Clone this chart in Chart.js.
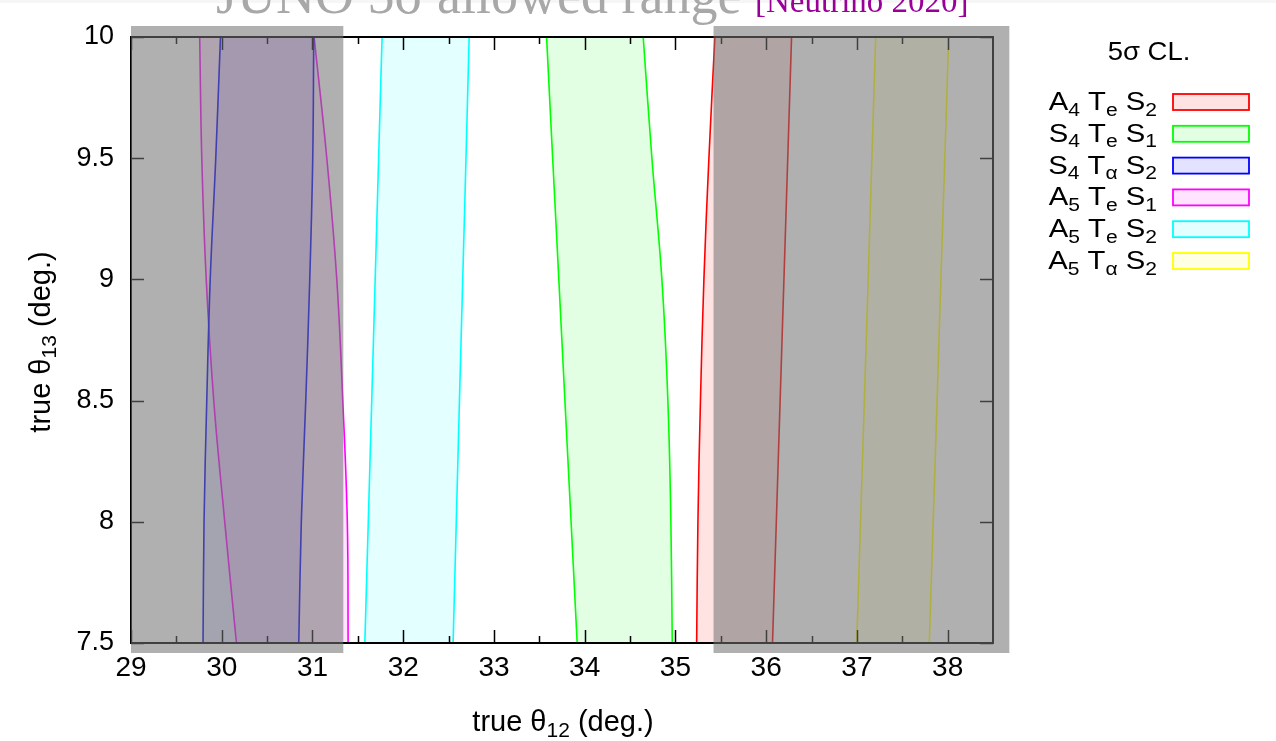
<!DOCTYPE html>
<html>
<head>
<meta charset="utf-8">
<title>theta12 - theta13 bands</title>
<script src="https://cdn.jsdelivr.net/npm/chart.js@4.4.1/dist/chart.umd.min.js"></script>
<style>
  body { margin: 0; background: #fff; }
  canvas { display: block; }
</style>
</head>
<body>
<canvas id="bandChart" width="1276" height="741"></canvas>
<script>
// theta13 levels (deg.) where each band edge is sampled
const th13Levels = [7.5, 8.0, 8.5, 9.0, 9.5, 10.0];

// left / right theta12 edges (deg.) of each 5 sigma band, one value per level
const a4TeS2Left  = [35.234, 35.248, 35.276, 35.314, 35.369, 35.435];
const a4TeS2Right = [36.070, 36.112, 36.154, 36.196, 36.238, 36.280];
const s4TeS1Left  = [33.917, 33.850, 33.782, 33.715, 33.647, 33.580];
const s4TeS1Right = [34.965, 34.950, 34.917, 34.851, 34.741, 34.645];
const s4TaS2Left  = [29.794, 29.805, 29.835, 29.873, 29.934, 29.986];
const s4TaS2Right = [30.849, 30.877, 30.926, 30.970, 31.003, 31.014];
const a5TeS1Left  = [30.162, 30.033, 29.912, 29.829, 29.780, 29.757];
const a5TeS1Right = [31.393, 31.384, 31.334, 31.268, 31.158, 31.018];
const a5TeS2Left  = [31.577, 31.615, 31.653, 31.691, 31.729, 31.767];
const a5TeS2Right = [32.550, 32.585, 32.620, 32.656, 32.692, 32.727];
const a5TaS2Left  = [36.998, 37.040, 37.082, 37.124, 37.165, 37.207];
const a5TaS2Right = [37.798, 37.841, 37.884, 37.926, 37.969, 38.012];

// legend entries: [symbol, subscript] pairs
const bandLabels = [
    [['A', '4'], ['T', 'e'], ['S', '2']],
    [['S', '4'], ['T', 'e'], ['S', '1']],
    [['S', '4'], ['T', 'α'], ['S', '2']],
    [['A', '5'], ['T', 'e'], ['S', '1']],
    [['A', '5'], ['T', 'e'], ['S', '2']],
    [['A', '5'], ['T', 'α'], ['S', '2']]
];
const bandEdges = [
    [a4TeS2Left, a4TeS2Right],
    [s4TeS1Left, s4TeS1Right],
    [s4TaS2Left, s4TaS2Right],
    [a5TeS1Left, a5TeS1Right],
    [a5TeS2Left, a5TeS2Right],
    [a5TaS2Left, a5TaS2Right]
];
const bandColors = ['255,0,0', '0,255,0', '0,0,255', '255,0,255', '0,255,255', '255,255,0'];

// axis ticks
const th12Ticks = [29, 30, 31, 32, 33, 34, 35, 36, 37, 38];
const th12Minor = [29.5, 30.5, 31.5, 32.5, 33.5, 34.5, 35.5, 36.5, 37.5];
const th13Ticks = [7.5, 8, 8.5, 9, 9.5, 10];

// shaded theta12 ranges (deg.) outside the JUNO window
const grayZones = [[29.0, 31.34], [35.42, 38.68]];

const sansFont = "'Liberation Sans', Arial, sans-serif";
const serifFont = "'Liberation Serif', 'Times New Roman', serif";
const fillAlpha = 0.11;

// two smooth edge lines per band (datasets 2i and 2i+1)
const datasets = [];
bandEdges.forEach(function(edges, i) {
    const rgb = bandColors[i];
    edges.forEach(function(xs) {
        datasets.push({
            data: th13Levels.map((y, k) => ({ x: xs[k], y: y })),
            showLine: true,
            pointRadius: 0,
            borderWidth: 1.6,
            borderColor: 'rgb(' + rgb + ')',
            backgroundColor: 'rgba(' + rgb + ',' + fillAlpha + ')',
            fill: false,
            tension: 0.4
        });
    });
});

// text with subscripts, optionally stretched horizontally
function drawRich(ctx, parts, x, y, size, align, sx) {
    const subSize = Math.round(size * 0.72);
    const subDrop = size * 0.22;
    let total = 0;
    parts.forEach(p => {
        ctx.font = (p.sub ? subSize : size) + 'px ' + sansFont;
        total += ctx.measureText(p.t).width;
    });
    let start = x;
    if (align === 'right') start = x - total * sx;
    if (align === 'center') start = x - total * sx / 2;
    ctx.save();
    ctx.translate(start, y);
    ctx.scale(sx, 1);
    ctx.textAlign = 'left';
    ctx.textBaseline = 'alphabetic';
    let cx = 0;
    parts.forEach(p => {
        ctx.font = (p.sub ? subSize : size) + 'px ' + sansFont;
        ctx.fillText(p.t, cx, p.sub ? subDrop : 0);
        cx += ctx.measureText(p.t).width;
    });
    ctx.restore();
}

function labelParts(entry) {
    const parts = [];
    entry.forEach((pair, i) => {
        parts.push({ t: (i > 0 ? ' ' : '') + pair[0], sub: false });
        parts.push({ t: pair[1], sub: true });
    });
    return parts;
}

// path along the points of one edge, following the line's bezier control points
function traceEdge(ctx, pts, reverse) {
    const seq = reverse ? pts.slice().reverse() : pts;
    seq.forEach((p, k) => {
        if (k === 0) {
            ctx.lineTo(p.x, p.y);
            return;
        }
        const prev = seq[k - 1];
        const c1x = reverse ? prev.cp1x : prev.cp2x, c1y = reverse ? prev.cp1y : prev.cp2y;
        const c2x = reverse ? p.cp2x : p.cp1x, c2y = reverse ? p.cp2y : p.cp1y;
        if (c1x === undefined || c2x === undefined) ctx.lineTo(p.x, p.y);
        else ctx.bezierCurveTo(c1x, c1y, c2x, c2y, p.x, p.y);
    });
}

// translucent fill between the two edges of every band
const bandFill = {
    id: 'bandFill',
    beforeDatasetsDraw(chart) {
        const ctx = chart.ctx;
        const a = chart.chartArea;
        ctx.save();
        ctx.beginPath();
        ctx.rect(a.left, a.top, a.right - a.left, a.bottom - a.top);
        ctx.clip();
        for (let i = 0; i < bandEdges.length; i++) {
            const leftMeta = chart.getDatasetMeta(2 * i);
            const rightMeta = chart.getDatasetMeta(2 * i + 1);
            [leftMeta, rightMeta].forEach(m => {
                if (m.dataset && m.dataset.updateControlPoints) m.dataset.updateControlPoints(a, 'x');
            });
            const lp = leftMeta.data, rp = rightMeta.data;
            ctx.beginPath();
            ctx.moveTo(lp[0].x, lp[0].y);
            traceEdge(ctx, lp, false);
            traceEdge(ctx, rp, true);
            ctx.closePath();
            ctx.fillStyle = chart.data.datasets[2 * i].backgroundColor;
            ctx.fill();
        }
        ctx.restore();
    }
};

const framePlugin = {
    id: 'framePlugin',
    beforeDraw(chart) {
        const ctx = chart.ctx;
        ctx.save();
        ctx.fillStyle = '#ffffff';
        ctx.fillRect(0, 0, chart.width, chart.height);
        ctx.fillStyle = '#f6f6f6';
        ctx.fillRect(0, 0, chart.width, 3);
        ctx.restore();
    },
    afterDraw(chart) {
        const ctx = chart.ctx;
        const a = chart.chartArea;
        const xs = chart.scales.x, ys = chart.scales.y;
        ctx.save();

        // border of the plot
        ctx.strokeStyle = '#000';
        ctx.lineWidth = 2;
        ctx.strokeRect(a.left, a.top, a.right - a.left, a.bottom - a.top);

        // inward ticks on all four sides
        ctx.lineWidth = 1.5;
        ctx.beginPath();
        th12Ticks.forEach(v => {
            const px = Math.round(xs.getPixelForValue(v)) + 0.5;
            ctx.moveTo(px, a.bottom); ctx.lineTo(px, a.bottom - 13);
            ctx.moveTo(px, a.top); ctx.lineTo(px, a.top + 13);
        });
        th12Minor.forEach(v => {
            const px = Math.round(xs.getPixelForValue(v)) + 0.5;
            ctx.moveTo(px, a.bottom); ctx.lineTo(px, a.bottom - 7);
            ctx.moveTo(px, a.top); ctx.lineTo(px, a.top + 7);
        });
        th13Ticks.forEach(v => {
            const py = Math.round(ys.getPixelForValue(v)) + 0.5;
            ctx.moveTo(a.left, py); ctx.lineTo(a.left + 13, py);
            ctx.moveTo(a.right, py); ctx.lineTo(a.right - 13, py);
        });
        ctx.stroke();

        // shaded theta12 ranges
        ctx.fillStyle = 'rgba(114,114,114,0.56)';
        grayZones.forEach(z => {
            const x0 = xs.getPixelForValue(z[0]);
            const x1 = xs.getPixelForValue(z[1]);
            ctx.fillRect(x0, a.top - 11, x1 - x0, a.bottom - a.top + 21);
        });

        // heading, partly above the page
        ctx.textAlign = 'left';
        ctx.textBaseline = 'alphabetic';
        ctx.fillStyle = '#a8a8a8';
        ctx.font = '54px ' + serifFont;
        ctx.fillText('JUNO 5σ allowed range', 216, 13);
        ctx.fillStyle = '#990099';
        ctx.font = '33px ' + serifFont;
        ctx.fillText('[Neutrino 2020]', 755, 12);

        // axis titles
        ctx.fillStyle = '#000';
        drawRich(ctx, [
            { t: 'true θ', sub: false }, { t: '12', sub: true }, { t: ' (deg.)', sub: false }
        ], 563, 731, 29, 'center', 1);
        ctx.save();
        ctx.translate(50, 342);
        ctx.rotate(-Math.PI / 2);
        drawRich(ctx, [
            { t: 'true θ', sub: false }, { t: '13', sub: true }, { t: ' (deg.)', sub: false }
        ], 0, 0, 29, 'center', 1);
        ctx.restore();

        // legend
        drawRich(ctx, [{ t: '5σ CL.', sub: false }], 1149, 60, 25, 'center', 1.1);
        const rowTop = 102, rowStep = 31.8;
        bandLabels.forEach((entry, i) => {
            const cy = rowTop + i * rowStep;
            drawRich(ctx, labelParts(entry), 1157, cy + 8, 25, 'right', 1.17);
            const rgb = bandColors[i];
            ctx.fillStyle = 'rgba(' + rgb + ',' + fillAlpha + ')';
            ctx.fillRect(1173, cy - 8, 76, 16);
            ctx.strokeStyle = 'rgb(' + rgb + ')';
            ctx.lineWidth = 1.8;
            ctx.strokeRect(1173, cy - 8, 76, 16);
            ctx.fillStyle = '#000';
        });
        ctx.restore();
    }
};

new Chart(document.getElementById('bandChart'), {
    type: 'scatter',
    data: { datasets: datasets },
    options: {
        responsive: false,
        animation: false,
        layout: { padding: { top: 37, right: 283, left: 0, bottom: 0 } },
        plugins: {
            legend: { display: false },
            tooltip: { enabled: false },
            title: { display: false }
        },
        scales: {
            x: {
                type: 'linear',
                min: 29,
                max: 38.5,
                afterBuildTicks: s => { s.ticks = th12Ticks.map(v => ({ value: v })); },
                afterFit: s => { s.height = 98; },
                grid: { display: false },
                border: { display: false },
                ticks: {
                    color: '#000',
                    padding: 0,
                    maxRotation: 0,
                    font: { family: sansFont, size: 28 },
                    callback: v => String(v)
                }
            },
            y: {
                type: 'linear',
                min: 7.5,
                max: 10,
                afterBuildTicks: s => { s.ticks = th13Ticks.map(v => ({ value: v })); },
                afterFit: s => { s.width = 131; },
                grid: { display: false },
                border: { display: false },
                ticks: {
                    color: '#000',
                    padding: 9,
                    font: { family: sansFont, size: 27 },
                    callback: v => String(v)
                }
            }
        }
    },
    plugins: [bandFill, framePlugin]
});
</script>
</body>
</html>
